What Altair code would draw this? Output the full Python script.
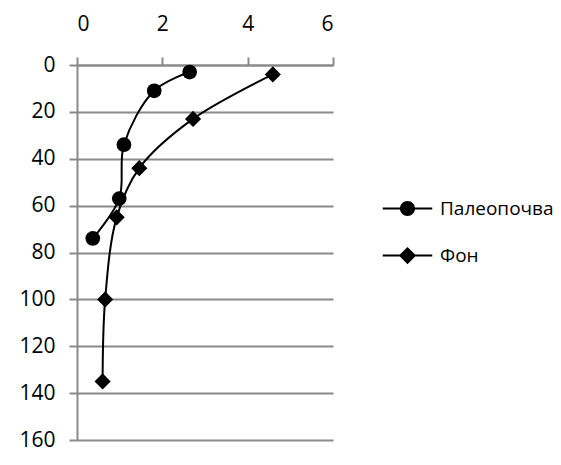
import altair as alt
import pandas as pd

series_names = ["Палеопочва", "Фон"]
paleo_x = [2.64, 1.81, 1.10, 0.99, 0.37]
paleo_depth = [3, 11, 34, 57, 74]
fon_x = [4.59, 2.72, 1.46, 0.93, 0.66, 0.60]
fon_depth = [4, 23, 44, 65, 100, 135]
x_ticks = [0, 2, 4, 6]
y_ticks = [0, 20, 40, 60, 80, 100, 120, 140, 160]

rows = []
for xv, dv in zip(paleo_x, paleo_depth):
    rows.append({"series": series_names[0], "value": xv, "depth": dv})
for xv, dv in zip(fon_x, fon_depth):
    rows.append({"series": series_names[1], "value": xv, "depth": dv})
df = pd.DataFrame(rows)

FONT = "Open Sans"
GRID = "#8a8a8a"

x_enc = alt.X("value:Q", scale=alt.Scale(domain=[0, 6], nice=False),
              axis=alt.Axis(orient="top", values=x_ticks, title=None, grid=False,
                            domainColor=GRID, domainWidth=2, tickColor=GRID, tickWidth=2,
                            tickSize=8, labelPadding=23, labelFontSize=21, labelFont=FONT,
                            labelColor="black", format="d"))
y_enc = alt.Y("depth:Q", scale=alt.Scale(domain=[0, 160], reverse=True, nice=False),
              axis=alt.Axis(values=y_ticks, title=None, grid=True, gridColor=GRID, gridWidth=2,
                            domainColor=GRID, domainWidth=2, tickColor=GRID, tickWidth=2,
                            tickSize=8, labelPadding=14, labelFontSize=21, labelFont=FONT,
                            labelColor="black", format="d"))

base = alt.Chart(df)

lines = base.mark_line(color="black", strokeWidth=2, interpolate="catmull-rom").encode(
    x=x_enc, y=y_enc, detail="series:N", order="depth:Q")

points = base.mark_point(filled=True, color="black", opacity=1).encode(
    x=x_enc, y=y_enc,
    shape=alt.Shape("series:N", scale=alt.Scale(domain=series_names, range=["circle", "diamond"]), legend=None),
    size=alt.Size("series:N", scale=alt.Scale(domain=series_names, range=[216, 260]), legend=None))

legend_paths = [
    "M-3.3,-0.13H3.3V0.13H-3.3ZM1,0A1,1,0,1,1,-1,0A1,1,0,1,1,1,0Z",
    "M-3.3,-0.13H3.3V0.13H-3.3ZM-1.15,0L0,-1.15L1.15,0L0,1.15Z",
]
legend_layer = base.mark_point(filled=True, color="black").encode(
    x=x_enc, y=y_enc,
    size=alt.value(0),
    shape=alt.Shape("series:N", scale=alt.Scale(domain=series_names, range=legend_paths),
                    legend=alt.Legend(title=None, orient="none", legendX=321, legendY=134,
                                      symbolSize=225, symbolFillColor="black",
                                      symbolStrokeWidth=0,
                                      symbolOpacity=1, labelFont=FONT, labelFontSize=19,
                                      labelLimit=300,
                                      labelColor="black", labelOffset=23, rowPadding=27)))

chart = alt.layer(lines, points, legend_layer).resolve_scale(shape="independent", size="independent").properties(
    width=256, height=375,
    autosize=alt.AutoSizeParams(type="none"),
    padding={"left": 69, "top": 57, "right": 220, "bottom": 13},
).configure_view(stroke=None)

chart.save("out.html", embed_options={"renderer": "svg", "actions": False})
